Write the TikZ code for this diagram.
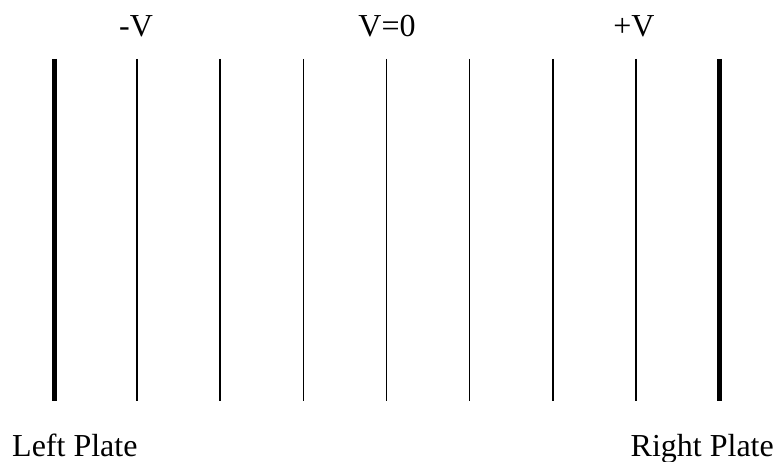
\documentclass[tikz,border=0pt]{standalone}
\usepackage{fontspec}
\setmainfont{Liberation Serif}

\begin{document}
\begin{tikzpicture}[x=1pt, y=-1pt,
  every node/.style={font=\fontsize{32}{38}\selectfont, inner sep=0pt},
  plate/.style={line width=5pt},
  equipot/.style={line width=1.6pt}]

  % Fixed frame (reference proportions)
  \useasboundingbox (0,0) rectangle (781,462);

  % Plates
  \draw[plate] (54,59) coordinate (LT) -- (54,401) coordinate (LB);
  \draw[plate] (719,59) coordinate (RT) -- (719,401) coordinate (RB);

  % Equipotential lines between the plates
  \foreach \i in {1,...,7} {
    \pgfmathsetmacro{\xx}{54 + 83.125*\i}
    \draw[equipot] (\xx,59) coordinate (E\i-t) -- (\xx,401) coordinate (E\i-b);
  }

  % Potential labels
  \node[anchor=base] (Vneg) at (136,37) {-V};
  \node[anchor=base] (Vzero) at (387,37) {V=0};
  \node[anchor=base] (Vpos) at (634,37) {+V};

  % Plate labels
  \node[anchor=base west] (Lplate) at (12,456) {Left Plate};
  \node[anchor=base east] (Rplate) at (774,456) {Right Plate};

\end{tikzpicture}
\end{document}
